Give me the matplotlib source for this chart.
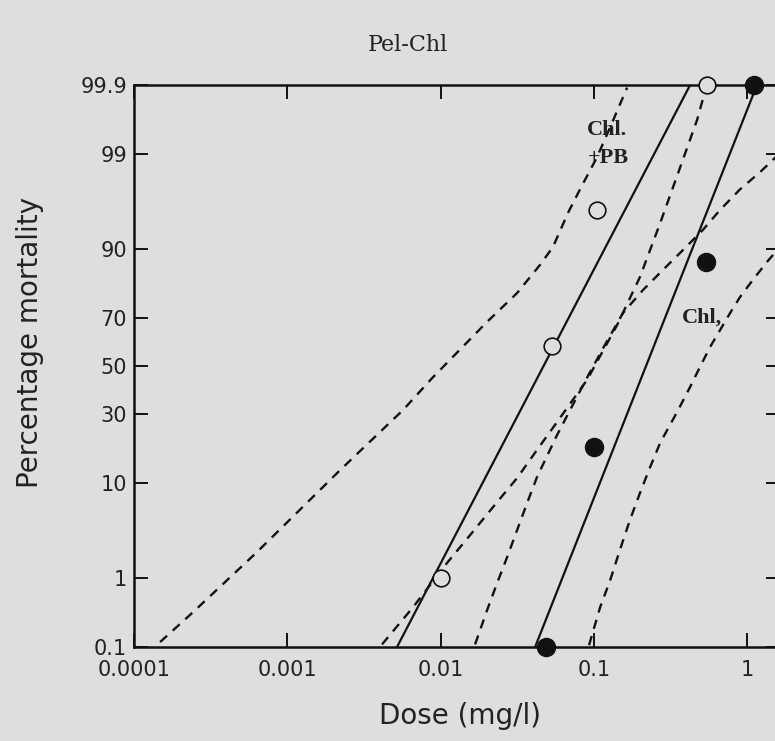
import numpy as np
import matplotlib
matplotlib.use("Agg")
import matplotlib.pyplot as plt
from matplotlib.ticker import NullLocator, FixedLocator, FixedFormatter
from statistics import NormalDist

# ---------------- data ----------------
# observed points
chlpb_dose = [0.01, 0.053, 0.105, 0.55]
chlpb_pct = [1.0, 58.6, 95.7, 99.9]
chl_dose = [0.049, 0.10, 0.54, 1.11]
chl_pct = [0.1, 18.8, 87.4, 99.9]

# fitted probit lines
chlpb_fit_dose = [0.0052, 0.425]
chlpb_fit_pct = [0.1, 99.9]
chl_fit_dose = [0.0414, 1.16]
chl_fit_pct = [0.1, 99.9]

# confidence limits (dashed)
chlpb_low_dose = [1.48e-4, 2.43e-4, 6.35e-4, 2.21e-3, 5.69e-3, 8.81e-3, 0.0201,
                  0.0316, 0.0446, 0.0542, 0.0679, 0.0813, 0.105, 0.128, 0.165]
chlpb_low_pct = [0.12, 0.34, 2.04, 12.6, 31.4, 44.7, 68.6, 78.9, 86.7, 90.5,
                 95.4, 97.4, 98.92, 99.57, 99.89]
chlpb_up_dose = [4.15e-3, 6.62e-3, 0.0110, 0.0156, 0.0220, 0.0316, 0.0426,
                 0.0576, 0.0903, 0.142, 0.200, 0.271, 0.355, 0.472, 0.540]
chlpb_up_pct = [0.11, 0.40, 1.51, 3.15, 6.04, 10.9, 17.8, 26.9, 43.9, 67.4,
                83.6, 94.2, 98.31, 99.66, 99.89]
chl_low_dose = [0.0168, 0.0201, 0.0234, 0.0272, 0.0316, 0.0367, 0.0426, 0.0576,
                0.0700, 0.0946, 0.118, 0.155, 0.209, 0.283, 0.382, 0.516, 0.667,
                0.900, 1.22, 1.64]
chl_low_pct = [0.11, 0.36, 0.85, 1.78, 3.56, 6.59, 11.1, 22.4, 31.4, 47.4, 59.1,
               72.0, 79.8, 85.5, 89.9, 93.3, 95.7, 97.4, 98.36, 99.04]
chl_up_dose = [0.0931, 0.110, 0.128, 0.148, 0.172, 0.200, 0.233, 0.271, 0.355,
               0.425, 0.493, 0.574, 0.667, 0.775, 0.900, 1.09, 1.35, 1.64]
chl_up_pct = [0.107, 0.40, 0.93, 2.15, 4.51, 8.12, 13.3, 19.9, 31.4, 40.9, 49.6,
              58.3, 65.4, 72.0, 77.6, 82.8, 87.4, 90.5]

x_ticks = [0.0001, 0.001, 0.01, 0.1, 1]
x_ticklabels = ["0.0001", "0.001", "0.01", "0.1", "1"]
y_ticks = [0.1, 1, 10, 30, 50, 70, 90, 99, 99.9]
y_ticklabels = ["0.1", "1", "10", "30", "50", "70", "90", "99", "99.9"]

# ---------------- probit scale ----------------
_nd = NormalDist()
_ppf = np.vectorize(_nd.inv_cdf, otypes=[float])
_cdf = np.vectorize(_nd.cdf, otypes=[float])


def probit_fwd(p):
    p = np.asarray(p, dtype=float)
    q = np.clip(p / 100.0, 1e-9, 1 - 1e-9)
    return _ppf(q)


def probit_inv(z):
    z = np.asarray(z, dtype=float)
    return _cdf(z) * 100.0


# ---------------- figure ----------------
BG = "#dedede"
INK = "#111111"
TXT = "#222222"

fig = plt.figure(figsize=(7.75, 7.41), dpi=100, facecolor=BG)
ax = fig.add_axes([134 / 775, 1 - 647 / 741, (780 - 134) / 775, (647 - 85) / 741])
ax.set_facecolor(BG)

ax.set_xscale("log")
ax.set_yscale("function", functions=(probit_fwd, probit_inv))
ax.set_xlim(1e-4, 1.64)
ax.set_ylim(0.1, 99.9)

lw_solid = 1.6
ax.plot(chlpb_fit_dose, chlpb_fit_pct, color=INK, lw=lw_solid, solid_capstyle="butt")
ax.plot(chl_fit_dose, chl_fit_pct, color=INK, lw=lw_solid, solid_capstyle="butt")

dash_kw = dict(color=INK, lw=1.7, dashes=(4.0, 3.2), dash_capstyle="butt")
ax.plot(chlpb_low_dose, chlpb_low_pct, **dash_kw)
ax.plot(chlpb_up_dose, chlpb_up_pct, **dash_kw)
ax.plot(chl_low_dose, chl_low_pct, **dash_kw)
ax.plot(chl_up_dose, chl_up_pct, **dash_kw)

ax.plot(chlpb_dose, chlpb_pct, linestyle="none", marker="o", ms=12,
        mfc=BG, mec=INK, mew=1.2, clip_on=False, zorder=5)
ax.plot(chl_dose, chl_pct, linestyle="none", marker="o", ms=13,
        mfc=INK, mec=INK, mew=1.0, clip_on=False, zorder=5)

# curve labels
serif = ["Liberation Serif", "DejaVu Serif"]
ax.text(0.0904, 99.45, "Chl.", family=serif, fontsize=16, fontweight="bold",
        color=TXT, ha="left", va="baseline")
ax.text(0.0918, 98.72, "+PB", family=serif, fontsize=16, fontweight="bold",
        color=TXT, ha="left", va="baseline")
ax.text(0.377, 68.2, "Chl,", family=serif, fontsize=16, fontweight="bold",
        color=TXT, ha="left", va="baseline")

# ticks
ax.xaxis.set_major_locator(FixedLocator(x_ticks))
ax.xaxis.set_major_formatter(FixedFormatter(x_ticklabels))
ax.xaxis.set_minor_locator(NullLocator())
ax.yaxis.set_major_locator(FixedLocator(y_ticks))
ax.yaxis.set_major_formatter(FixedFormatter(y_ticklabels))
ax.yaxis.set_minor_locator(NullLocator())
ax.tick_params(which="major", direction="in", top=True, right=True,
               length=10, width=1.4, color=INK, labelsize=15, labelcolor=TXT)
ax.tick_params(axis="x", pad=9)
ax.tick_params(axis="y", pad=5)

for s in ax.spines.values():
    s.set_linewidth(1.8)
    s.set_color(INK)

ax.set_xlabel("Dose (mg/l)", fontsize=20, color=TXT)
ax.xaxis.label.set_va("baseline")
ax.xaxis.set_label_coords((460 - 134) / 646, (647 - 724) / 562)
ax.set_ylabel("Percentage mortality", fontsize=20, color=TXT)
ax.yaxis.label.set_va("center")
ax.yaxis.set_label_coords((30 - 134) / 646, (647 - 342) / 562)

ax.set_title("Pel-Chl", family=["DejaVu Serif"], fontsize=16, color=TXT,
             x=(408 - 134) / 646, y=(647 - 59) / 562)

fig.savefig("out.png", dpi=100, facecolor=BG)
